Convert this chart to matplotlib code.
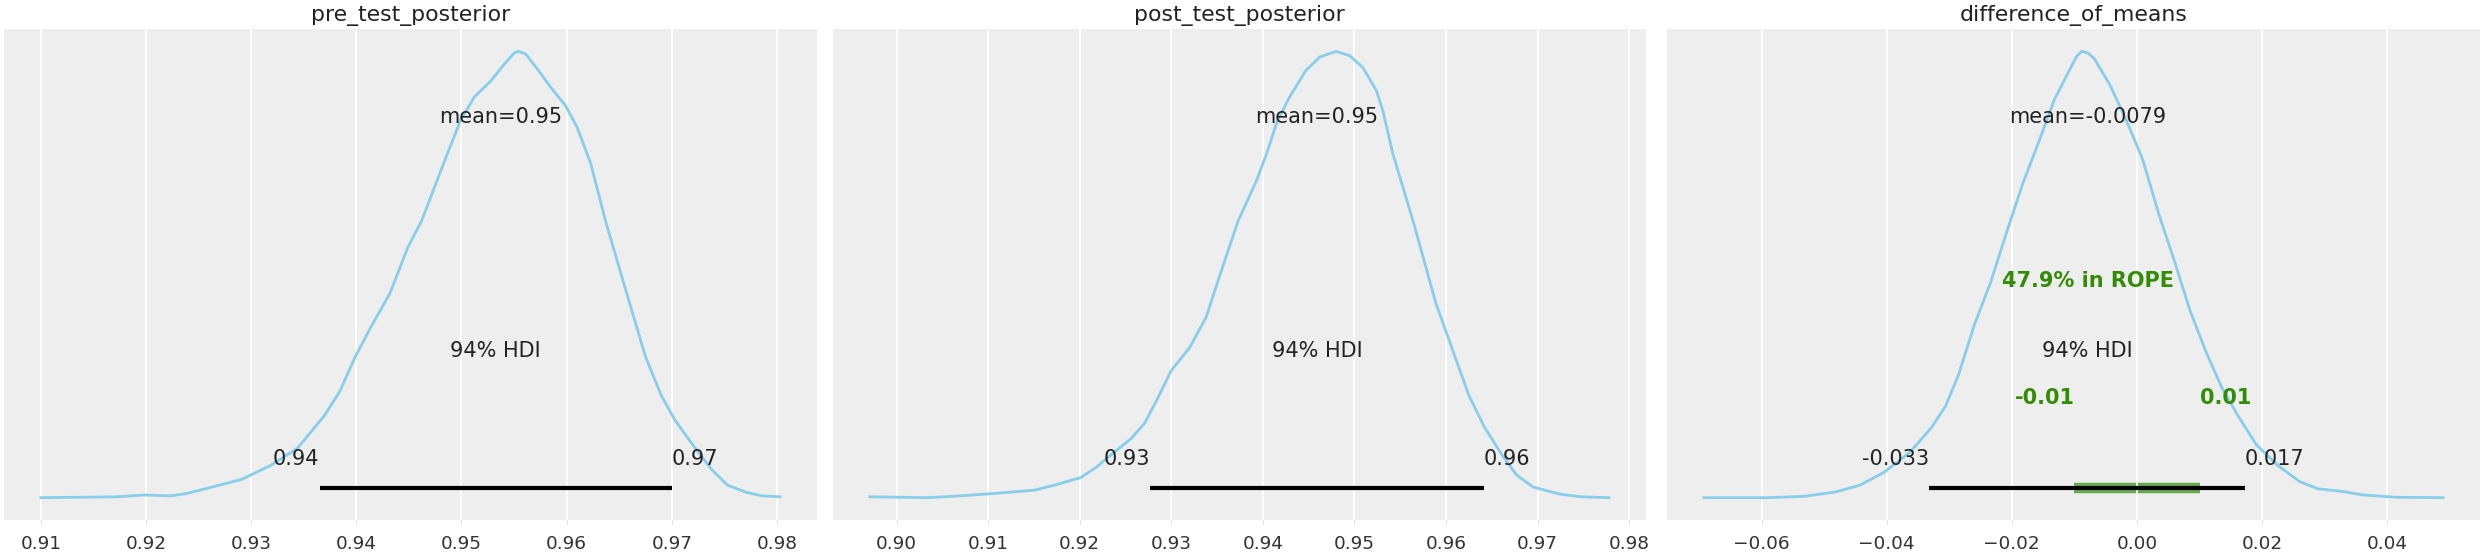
import matplotlib
matplotlib.use("Agg")
import matplotlib.pyplot as plt

# posterior densities (relative height, peak = 1)
titles = ["pre_test_posterior", "post_test_posterior", "difference_of_means"]

pre_x = [0.9100, 0.9173, 0.9198, 0.9223, 0.9238, 0.9263, 0.9291, 0.9319, 0.9344,
         0.9369, 0.9384, 0.9399, 0.9414, 0.9432, 0.9449, 0.9462, 0.9484, 0.9499,
         0.9512, 0.9528, 0.9541, 0.9550, 0.9554, 0.9561, 0.9572, 0.9585, 0.9599,
         0.9610, 0.9623, 0.9637, 0.9658, 0.9675, 0.9690, 0.9703, 0.9721, 0.9738,
         0.9753, 0.9771, 0.9786, 0.9803]
pre_y = [0.000, 0.002, 0.006, 0.004, 0.009, 0.024, 0.041, 0.073, 0.111,
         0.182, 0.237, 0.316, 0.383, 0.458, 0.561, 0.620, 0.755, 0.845,
         0.897, 0.934, 0.972, 0.996, 1.000, 0.994, 0.961, 0.919, 0.878,
         0.830, 0.748, 0.620, 0.451, 0.316, 0.229, 0.174, 0.115, 0.063,
         0.028, 0.012, 0.004, 0.002]

post_x = [0.8971, 0.9034, 0.9069, 0.9110, 0.9151, 0.9174, 0.9201, 0.9218, 0.9239,
          0.9256, 0.9271, 0.9285, 0.9300, 0.9320, 0.9338, 0.9353, 0.9373, 0.9393,
          0.9404, 0.9416, 0.9429, 0.9447, 0.9462, 0.9480, 0.9495, 0.9509, 0.9524,
          0.9531, 0.9542, 0.9553, 0.9564, 0.9589, 0.9607, 0.9625, 0.9642, 0.9660,
          0.9677, 0.9695, 0.9724, 0.9747, 0.9778]
post_y = [0.002, 0.000, 0.004, 0.010, 0.017, 0.029, 0.045, 0.068, 0.104,
          0.132, 0.167, 0.222, 0.285, 0.336, 0.404, 0.498, 0.620, 0.710,
          0.770, 0.845, 0.897, 0.957, 0.987, 1.000, 0.990, 0.964, 0.912,
          0.867, 0.770, 0.695, 0.620, 0.435, 0.332, 0.229, 0.158, 0.099,
          0.051, 0.024, 0.008, 0.002, 0.000]

diff_x = [-0.0692, -0.0591, -0.0532, -0.0481, -0.0443, -0.0404, -0.0362, -0.0328,
          -0.0306, -0.0285, -0.0260, -0.0234, -0.0209, -0.0183, -0.0157, -0.0132,
          -0.0106, -0.0096, -0.0088, -0.0078, -0.0068, -0.0043, -0.0017, 0.0009,
          0.0034, 0.0060, 0.0085, 0.0111, 0.0136, 0.0162, 0.0191, 0.0226, 0.0260,
          0.0289, 0.0328, 0.0362, 0.0413, 0.0489]
diff_y = [0.000, 0.000, 0.003, 0.013, 0.028, 0.057, 0.103, 0.158,
          0.205, 0.276, 0.387, 0.482, 0.592, 0.702, 0.797, 0.892,
          0.963, 0.990, 1.000, 0.996, 0.983, 0.924, 0.845, 0.758,
          0.639, 0.529, 0.418, 0.324, 0.245, 0.182, 0.118, 0.071, 0.036,
          0.020, 0.014, 0.006, 0.001, 0.000]

means = [0.9537, 0.9459, -0.0079]
hdi_low = [0.9365, 0.9277, -0.0332]
hdi_high = [0.9700, 0.9641, 0.0172]
hdi_prob = "94%"

rope = [-0.01, 0.01]
rope_pct = "47.9%"

curves = [(pre_x, pre_y), (post_x, post_y), (diff_x, diff_y)]

bg = "#eeeeee"
line_c = "#87ceeb"
txt_c = "#222222"
green = "#328c06"
lw = 1.5

fig = plt.figure(figsize=(24.84, 5.52), dpi=100)
W, H = 2484.0, 552.0
lefts = [4, 833, 1667]
width = 813
bottom, top = 520, 29

for i in range(3):
    ax = fig.add_axes([lefts[i] / W, (H - bottom) / H, width / W, (bottom - top) / H])
    ax.set_facecolor(bg)
    ax.set_axisbelow(True)
    for s in ax.spines.values():
        s.set_visible(False)
    ax.grid(True, axis="x", color="white", lw=1.2)

    xs, ys = curves[i]
    ax.plot(xs, ys, color=line_c, lw=2.0, solid_joinstyle="round")
    ax.set_yticks([])
    ax.tick_params(axis="x", labelsize=13.3, labelcolor="#333333", length=3,
                   color="#dddddd", pad=8)
    ax.set_title(titles[i], fontsize=15.8, color=txt_c)

    h = ax.get_ylim()[1]
    ax.set_ylim(ax.get_ylim())

    # hdi bar
    ax.plot([hdi_low[i], hdi_high[i]], [h * 0.02, h * 0.02], color="k", lw=lw * 2,
            solid_capstyle="butt")
    ax.text(hdi_low[i], h * 0.07, f"{hdi_low[i]:.2g}", ha="right", fontsize=15,
            color=txt_c)
    ax.text(hdi_high[i], h * 0.07, f"{hdi_high[i]:.2g}", ha="left", fontsize=15,
            color=txt_c)
    ax.text((hdi_low[i] + hdi_high[i]) / 2, h * 0.3, hdi_prob + " HDI", ha="center",
            fontsize=15, color=txt_c)
    ax.text(means[i], h * 0.8, f"mean={means[i]:.2g}", ha="center", fontsize=15,
            color=txt_c)

    if i == 2:
        ax.plot(rope, [h * 0.02, h * 0.02], color=green, lw=lw * 5, alpha=0.7,
                solid_capstyle="butt", zorder=0)
        ax.text(rope[0], h * 0.2, f"{rope[0]:.2g}", ha="right", fontsize=15,
                color=green, weight="bold")
        ax.text(rope[1], h * 0.2, f"{rope[1]:.2g}", ha="left", fontsize=15,
                color=green, weight="bold")
        ax.text(means[i], h * 0.45, rope_pct + " in ROPE", ha="center",
                fontsize=15, color=green, weight="bold")

fig.savefig("out.png", dpi=100, facecolor="white")
